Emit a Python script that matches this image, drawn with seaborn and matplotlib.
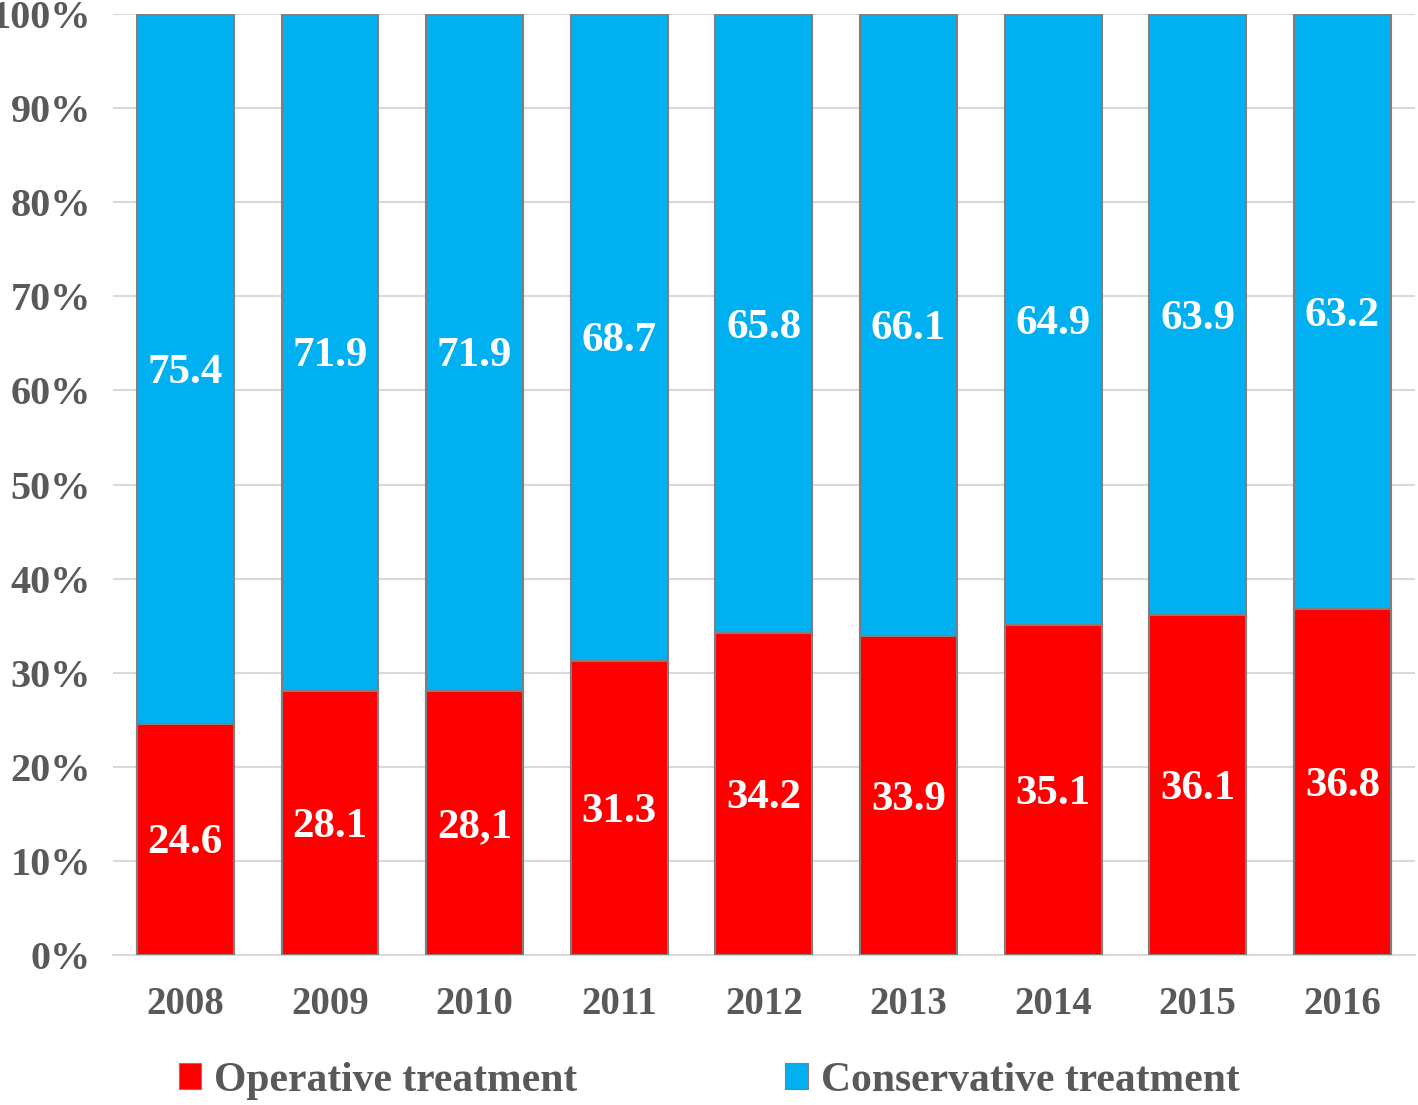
import numpy as np
import pandas as pd
import matplotlib
matplotlib.use('Agg')
import matplotlib.pyplot as plt
import seaborn as sns
from matplotlib.patches import Patch

# data
years = ['2008', '2009', '2010', '2011', '2012', '2013', '2014', '2015', '2016']
operative = [24.6, 28.1, 28.1, 31.3, 34.2, 33.9, 35.1, 36.1, 36.8]
conservative = [75.4, 71.9, 71.9, 68.7, 65.8, 66.1, 64.9, 63.9, 63.2]
operative_labels = ['24.6', '28.1', '28,1', '31.3', '34.2', '33.9', '35.1', '36.1', '36.8']
conservative_labels = ['75.4', '71.9', '71.9', '68.7', '65.8', '66.1', '64.9', '63.9', '63.2']

sns.set_style('white')
plt.rcParams['font.family'] = ['Liberation Serif', 'DejaVu Serif']
plt.rcParams['font.weight'] = 'bold'

red = '#ff0000'
blue = '#00b0f0'
edge = '#7f7f7f'
txt = '#595959'

df = pd.DataFrame({'year': years, 'operative': operative, 'conservative': conservative})
df['total'] = df['operative'] + df['conservative']

fig = plt.figure(figsize=(14.18, 11.05), dpi=100)
ax = fig.add_axes([0.0797, 0.1357, 0.918, 0.8516])

sns.barplot(data=df, x='year', y='total', color=blue, saturation=1, width=0.67,
            edgecolor=edge, linewidth=1.5, ax=ax, zorder=2)
sns.barplot(data=df, x='year', y='operative', color=red, saturation=1, width=0.67,
            edgecolor=edge, linewidth=1.5, ax=ax, zorder=3)

# value labels in the middle of each segment
for i in range(len(years)):
    ax.annotate(operative_labels[i], (i, operative[i] / 2), xytext=(0, -3),
                textcoords='offset points', ha='center', va='center',
                color='white', fontsize=31, fontweight='bold', zorder=4)
    ax.annotate(conservative_labels[i], (i, operative[i] + conservative[i] / 2), xytext=(0, -3),
                textcoords='offset points', ha='center', va='center',
                color='white', fontsize=31, fontweight='bold', zorder=4)

ax.set_ylim(0, 100)
ax.set_xlim(-0.5, len(years) - 0.5)
ax.set_yticks(np.arange(0, 101, 10))
ax.set_yticklabels([f'{v}%' for v in range(0, 101, 10)])
ax.yaxis.grid(True, color='#d9d9d9', linewidth=1.5, zorder=0)
ax.set_axisbelow(True)
for s in ['left', 'right', 'top']:
    ax.spines[s].set_visible(False)
ax.spines['bottom'].set_color('#d9d9d9')
ax.spines['bottom'].set_linewidth(1.5)
ax.tick_params(axis='both', length=0, labelcolor=txt)
ax.tick_params(axis='y', pad=16, labelsize=29)
ax.tick_params(axis='x', pad=22, labelsize=28)
for lab in ax.get_xticklabels() + ax.get_yticklabels():
    lab.set_fontweight('bold')
ax.set_xlabel('')
ax.set_ylabel('')

handles = [Patch(facecolor=red, edgecolor=edge, linewidth=0.8, label='Operative treatment'),
           Patch(facecolor=blue, edgecolor=edge, linewidth=0.8, label='Conservative treatment')]
leg = fig.legend(handles=handles, loc='center', bbox_to_anchor=(0.5, 0.022), ncol=2,
                 frameon=False, fontsize=30, handlelength=0.55, handleheight=0.55,
                 handletextpad=0.3, columnspacing=5.0, labelcolor=txt)
for t in leg.get_texts():
    t.set_fontweight('bold')

fig.savefig('out.png', dpi=100)
